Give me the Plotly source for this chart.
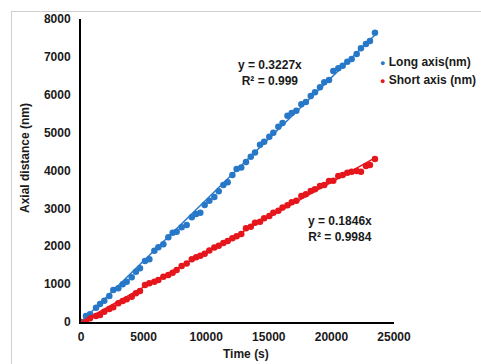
import plotly.graph_objects as go

# ---- data ----
time_s = [0, 400, 720, 1200, 1520, 1860, 2260, 2580, 2980, 3330, 3650, 4050, 4390, 4710,
          5110, 5460, 5860, 6180, 6580, 6975, 7320, 7640, 8040, 8440, 8850, 9200, 9530,
          9880, 10250, 10650, 11000, 11370, 11715, 12090, 12430, 12800, 13180, 13560,
          13900, 14300, 14630, 15040, 15360, 15760, 16100, 16490, 16830, 17200, 17600,
          17960, 18350, 18690, 19090, 19430, 19810, 20150, 20550, 20900, 21270, 21620,
          22020, 22360, 22760, 23080, 23480]

long_axis_nm = [0, 158, 202, 378, 475, 563, 686, 845, 889, 995, 1065, 1179, 1329, 1417,
                1610, 1654, 1883, 1971, 2050, 2235, 2357, 2380, 2499, 2561, 2763, 2851, 2886,
                3089, 3203, 3300, 3450, 3617, 3687, 3881, 4039, 4080, 4225, 4364,
                4475, 4680, 4760, 4892, 4998, 5156, 5255, 5447, 5515, 5575, 5750,
                5808, 5966, 6064, 6196, 6328, 6389, 6626, 6697, 6766, 6872, 6943,
                7075, 7225, 7339, 7418, 7637]

short_axis_nm = [0, 30, 97, 158, 185, 273, 343, 387, 493, 554, 598, 668, 757, 818,
                 977, 1021, 1065, 1109, 1197, 1241, 1302, 1373, 1480, 1545, 1660, 1710, 1750,
                 1805, 1890, 1965, 2010, 2085, 2140, 2210, 2265, 2323, 2473, 2517,
                 2622, 2648, 2737, 2798, 2886, 2938, 3020, 3080, 3160, 3203, 3326,
                 3370, 3458, 3503, 3590, 3617, 3722, 3731, 3854, 3881, 3942, 3968,
                 3986, 3968, 4118, 4145, 4303]

series_names = ["Long axis(nm)", "Short axis (nm)"]
slopes = [0.3227, 0.1846]
r2_values = ["0.999", "0.9984"]
x_ticks = [0, 5000, 10000, 15000, 20000, 25000]
y_ticks = [0, 1000, 2000, 3000, 4000, 5000, 6000, 7000, 8000]

BLUE = "#2878C8"
RED = "#E5161C"
colors = [BLUE, RED]
FONT = "Liberation Sans, Arial, sans-serif"

fig = go.Figure()
for vals, name, col in zip([long_axis_nm, short_axis_nm], series_names, colors):
    fig.add_trace(go.Scatter(x=time_s, y=vals, mode="markers", name=name,
                             marker=dict(color=col, size=6.5), showlegend=False))
for slope, col in zip(slopes, colors):
    xs = [0, max(time_s)]
    fig.add_trace(go.Scatter(x=xs, y=[slope * v for v in xs], mode="lines",
                             line=dict(color=col, width=1.5), showlegend=False,
                             hoverinfo="skip"))

axis_common = dict(showline=True, linecolor="black", linewidth=2, showgrid=False,
                   zeroline=False, ticks="", mirror=False,
                   tickfont=dict(family=FONT, size=12, color="#1a1a1a", weight="bold"))

fig.update_xaxes(range=[0, 25000], tickvals=x_ticks, ticktext=[str(v) for v in x_ticks],
                 ticklabelstandoff=3, **axis_common)
fig.update_yaxes(range=[0, 8000], tickvals=y_ticks, ticktext=[str(v) for v in y_ticks],
                 ticklabelstandoff=6, **axis_common)

W, H = 481, 364
L, R, T, B = 81, 87, 19, 42
pw, ph = W - L - R, H - T - B

def px(x):
    return (x - L) / pw

def py(y):
    return (H - B - y) / ph

ann_font = dict(family=FONT, size=12, color="#1a1a1a", weight="bold")
annotations = [
    dict(x=px(270), y=py(72.5), xref="paper", yref="paper", showarrow=False,
         text=f"y = {slopes[0]}x<br>R² = {r2_values[0]}", align="center",
         xanchor="center", yanchor="middle", font=ann_font),
    dict(x=px(339.5), y=py(229), xref="paper", yref="paper", showarrow=False,
         text=f"y = {slopes[1]}x<br>R² = {r2_values[1]}", align="center",
         xanchor="center", yanchor="middle", font=ann_font),
    dict(x=px(246), y=py(354), xref="paper", yref="paper", showarrow=False,
         text="Time (s)", xanchor="center", yanchor="middle", font=ann_font),
    dict(x=px(25), y=py(158), xref="paper", yref="paper", showarrow=False,
         text="Axial distance (nm)", textangle=-90, xanchor="center", yanchor="middle",
         font=ann_font),
]
for i, (name, col) in enumerate(zip(series_names, colors)):
    annotations.append(dict(
        x=px(378), y=py(62 + 18 * i), xref="paper", yref="paper", showarrow=False,
        xanchor="left", yanchor="middle", align="left",
        text=f'<span style="color:{col};font-size:9px">●</span> {name}', font=ann_font))

shapes = [
    dict(type="line", xref="paper", yref="paper", x0=px(11), x1=px(481), y0=py(11.5), y1=py(11.5),
         line=dict(color="#cfcfcf", width=1)),
    dict(type="line", xref="paper", yref="paper", x0=px(11.5), x1=px(11.5), y0=py(11), y1=py(364),
         line=dict(color="#cfcfcf", width=1)),
]

fig.update_layout(width=W, height=H, margin=dict(l=L, r=R, t=T, b=B),
                  paper_bgcolor="white", plot_bgcolor="white",
                  annotations=annotations, shapes=shapes, showlegend=False)

fig.write_html("out.html", config={"displayModeBar": False},
               post_script="document.body.style.margin='0px';document.body.style.padding='0px';")
